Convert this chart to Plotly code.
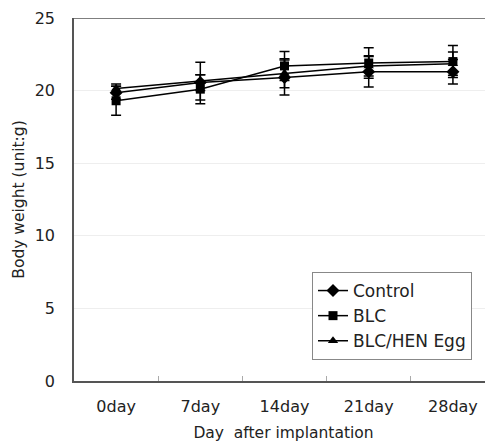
import plotly.graph_objects as go

days = ["0day", "7day", "14day", "21day", "28day"]
control = [19.85, 20.55, 20.9, 21.3, 21.3]
control_err = [0.45, 0.55, 1.2, 1.05, 0.85]
blc = [19.3, 20.1, 21.7, 21.9, 22.0]
blc_err = [1.0, 1.0, 1.0, 1.05, 1.1]
hen = [20.15, 20.65, 21.2, 21.7, 21.85]
hen_err = [0.3, 1.3, 1.0, 0.7, 0.8]

series = [
    ("Control", control, control_err, "diamond"),
    ("BLC", blc, blc_err, "square"),
    ("BLC/HEN Egg", hen, hen_err, "triangle-up"),
]

# page body has an 8px default margin, so the figure is 8px smaller
FONT = "DejaVu Sans, sans-serif"
fig = go.Figure()
for name, vals, errs, sym in series:
    fig.add_trace(go.Scatter(
        x=days, y=vals, name=name, mode="lines+markers",
        line=dict(color="black", width=1.5),
        marker=dict(symbol=sym, size=9 if sym != "diamond" else 10, color="black"),
        error_y=dict(type="data", array=errs, visible=True, color="black",
                     thickness=1.5, width=5),
    ))

fig.update_layout(
    width=485, height=434,
    margin=dict(l=66, r=0, t=10, b=61),
    paper_bgcolor="white", plot_bgcolor="white",
    font=dict(family=FONT, size=15, color="#222"),
    showlegend=True,
    legend=dict(
        x=(312 - 74) / 419, y=(381 - 272) / 363, xanchor="left", yanchor="top",
        bgcolor="white", bordercolor="#888", borderwidth=1,
        font=dict(size=17, color="#222"), tracegroupgap=0,
        itemwidth=30,
    ),
    xaxis=dict(
        type="category", range=[-0.5, 4.476], automargin=False,
        tickson="boundaries", ticks="inside", ticklen=5, tickcolor="#aaa",
        ticklabelstandoff=10,
        showgrid=False, showline=True, linecolor="#555", linewidth=1.5,
        tickfont=dict(size=16, color="#222"),
        title=dict(text="Day  after implantation", standoff=16, font=dict(size=15.5, color="#222")),
    ),
    yaxis=dict(
        range=[0, 25], dtick=5, showgrid=True, gridcolor="#eeeeee", gridwidth=1,
        zeroline=False, showline=True, linecolor="#555", linewidth=1.5,
        ticks="", ticklabelstandoff=14, automargin=False,
        tickfont=dict(size=16, color="#222"),
        title=dict(text="Body weight (unit:g)", standoff=6, font=dict(size=15.5, color="#222")),
    ),
    shapes=[dict(type="line", xref="paper", yref="y", x0=0, x1=1, y0=25, y1=25,
                 line=dict(color="#555", width=1.5))],
)

fig.write_html("out.html")
